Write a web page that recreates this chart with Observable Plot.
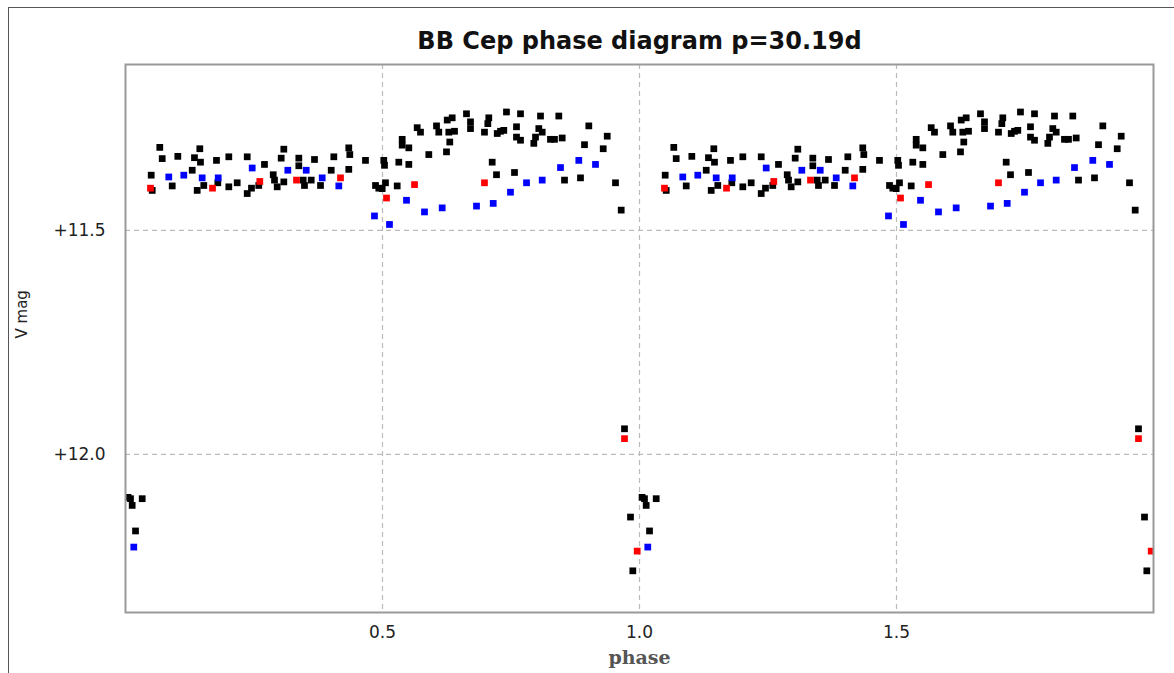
<!DOCTYPE html>
<html>
<head>
<meta charset="utf-8">
<script src="https://cdn.jsdelivr.net/npm/d3@7"></script>
<script src="https://cdn.jsdelivr.net/npm/@observablehq/plot@0.6"></script>
<style>
  html, body { margin: 0; padding: 0; background: #fff; overflow: hidden; }
</style>
</head>
<body>
<div id="chart"></div>
<script>
const title = "BB Cep phase diagram p=30.19d";
const xTicks = [0.5, 1.0, 1.5];
const yTicks = [11.5, 12.0];

// one cycle (phase 0..1) per observer group
const blackPhase = [0.0667,0.0714,0.1018,0.1446,0.1342,0.1459,0.1298,0.177,0.201,0.2368,0.2704,0.308,0.3029,0.3372,0.3372,0.3677,0.4053,0.4002,0.4344,0.4364,0.4344,0.4669,0.5025,0.5039,
  0.05,0.052,0.0909,0.1395,0.1523,0.1796,0.201,0.2173,0.2368,0.2451,0.2874,0.2899,0.2951,0.308,0.3457,0.3482,0.3613,0.3794,0.4864,0.4994,0.2593,0.4928,0.5058,0.5286,
  0.5317,0.5512,0.5383,0.5383,0.5512,0.5675,0.5739,0.5901,0.6051,0.6095,0.6259,0.6356,0.629,0.6401,0.6309,0.6245,0.6634,0.6712,0.6712,0.7068,0.7049,0.6984,0.7412,0.7685,0.8074,0.843,
  0.7232,0.7296,0.736,0.7607,0.7607,0.7685,0.8041,0.8107,0.7977,0.7944,0.8268,0.8346,0.8496,0.9014,0.9372,0.893,0.9294,0.7134,0.7218,0.7568,0.8541,0.8852,0.9533,0.9644,
  0.9708,0.9825,0.987,0.0097,0.013,0.0325,0.0195,0.005];
const blackMag = [11.315,11.340,11.335,11.318,11.338,11.348,11.366,11.344,11.336,11.336,11.353,11.319,11.339,11.339,11.356,11.342,11.336,11.366,11.316,11.331,11.364,11.344,11.344,11.355,
  11.377,11.411,11.401,11.411,11.400,11.394,11.403,11.394,11.418,11.406,11.376,11.388,11.403,11.392,11.388,11.400,11.388,11.400,11.400,11.407,11.400,11.406,11.394,11.401,
  11.348,11.353,11.297,11.310,11.316,11.271,11.281,11.331,11.267,11.281,11.254,11.249,11.281,11.279,11.303,11.325,11.240,11.258,11.273,11.249,11.262,11.281,11.236,11.240,11.245,11.245,
  11.284,11.279,11.277,11.269,11.292,11.299,11.273,11.281,11.292,11.306,11.297,11.297,11.294,11.267,11.290,11.309,11.318,11.348,11.376,11.371,11.388,11.383,11.394,11.455,
  11.943,12.140,12.260,12.099,12.114,12.099,12.171,12.096];

const bluePhase = [0.0842,0.1134,0.1492,0.1804,0.2465,0.3158,0.3516,0.3827,0.415,0.4844,0.5136,0.5467,0.5817,0.6161,0.6829,0.7154,0.749,0.7802,0.8107,0.8463,0.8819,0.9144,0.0161];
const blueMag = [11.381,11.377,11.383,11.383,11.361,11.366,11.366,11.383,11.401,11.468,11.487,11.433,11.459,11.450,11.446,11.440,11.415,11.394,11.388,11.360,11.344,11.353,12.207];

const redPhase = [0.0486,0.1693,0.2613,0.3327,0.4183,0.5078,0.5623,0.6984,0.9708,0.9955];
const redMag = [11.406,11.406,11.391,11.388,11.383,11.428,11.398,11.394,11.965,12.216];

// phase diagram shows two cycles: phase and phase + 1
function twoCycles(phases, mags) {
  const out = [];
  for (let c = 0; c < 2; c++) phases.forEach((p, i) => out.push({phase: p + c, mag: mags[i]}));
  return out;
}
const black = twoCycles(blackPhase, blackMag);
const blue = twoCycles(bluePhase, blueMag);
const red = twoCycles(redPhase, redMag);

const tickFont = "DejaVu Sans, Liberation Sans, sans-serif";
const dotOpts = {x: "phase", y: "mag", symbol: "square", r: 3.8, clip: true};

const chart = Plot.plot({
  width: 1174,
  height: 673,
  marginLeft: 125,
  marginRight: 21,
  marginTop: 64,
  marginBottom: 61,
  style: {background: "#fff", fontFamily: tickFont, fontSize: "17px"},
  x: {domain: [0, 2]},
  y: {domain: [11.13, 12.353], reverse: true},
  marks: [
    Plot.frame({stroke: "#555", strokeWidth: 1, insetLeft: -117, insetTop: -57, insetRight: -60, insetBottom: -100}),
    Plot.gridX(xTicks, {stroke: "#bbb", strokeOpacity: 1, strokeDasharray: "5,4", strokeWidth: 1.2}),
    Plot.gridY(yTicks, {stroke: "#bbb", strokeOpacity: 1, strokeDasharray: "5,4", strokeWidth: 1.2}),
    Plot.dot(black, {...dotOpts, fill: "#000"}),
    Plot.dot(blue, {...dotOpts, fill: "#0000ff"}),
    Plot.dot(red, {...dotOpts, fill: "#ff0000"}),
    Plot.frame({stroke: "#999", strokeWidth: 2}),
    Plot.axisX(xTicks, {tickSize: 0, tickPadding: 13, fontSize: 17, fill: "#222", fontFamily: tickFont, tickFormat: d3.format(".1f"), label: null}),
    Plot.axisY(yTicks, {tickSize: 0, tickPadding: 20, fontSize: 17, fill: "#222", fontFamily: tickFont, tickFormat: d => "+" + d.toFixed(1), label: null}),
    Plot.text([title], {frameAnchor: "top", dy: -33, fontSize: 24, fontWeight: "bold", fill: "#111", fontFamily: tickFont}),
    Plot.text(["phase"], {frameAnchor: "bottom", dy: 51, fontSize: 19, fontWeight: "bold", fill: "#555", fontFamily: "DejaVu Serif, Liberation Serif, serif"}),
    Plot.text(["V mag"], {frameAnchor: "left", dx: -103, rotate: -90, fontSize: 15, fill: "#222", fontFamily: tickFont})
  ]
});
document.getElementById("chart").appendChild(chart);
</script>
</body>
</html>
